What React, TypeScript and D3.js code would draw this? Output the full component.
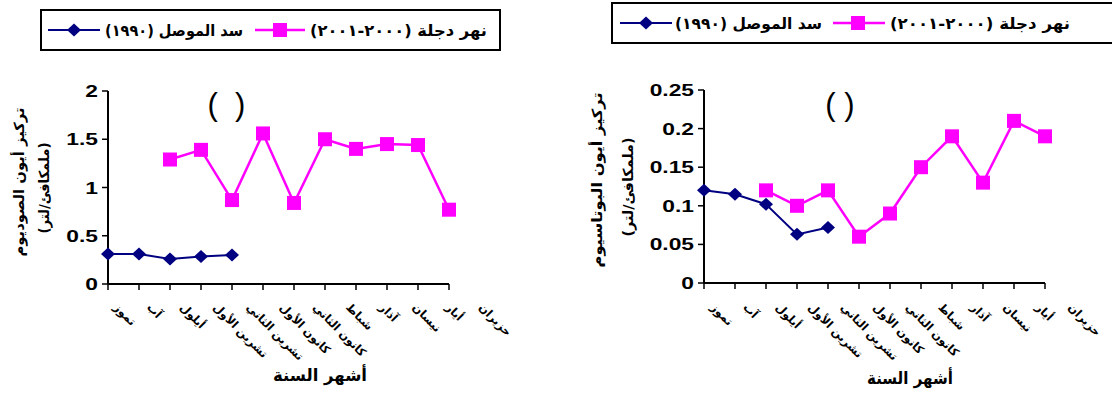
import React from 'react';
import * as d3 from 'd3';

// ---------- data ----------
const months = ['تموز', 'آب', 'أيلول', 'تشرين الأول', 'تشرين الثاني', 'كانون الأول', 'كانون الثاني', 'شباط', 'آذار', 'نيسان', 'أيار', 'حزيران'];
const sodiumTigris: (number | null)[] = [null, null, 1.29, 1.39, 0.87, 1.56, 0.84, 1.5, 1.4, 1.45, 1.44, 0.77];
const sodiumDam: (number | null)[] = [0.31, 0.31, 0.26, 0.285, 0.3, null, null, null, null, null, null, null];
const potassiumTigris: (number | null)[] = [null, null, 0.12, 0.1, 0.12, 0.06, 0.09, 0.15, 0.19, 0.13, 0.21, 0.19];
const potassiumDam: (number | null)[] = [0.12, 0.115, 0.102, 0.063, 0.072, null, null, null, null, null, null, null];
const sodiumTicks = [0, 0.5, 1, 1.5, 2];
const potassiumTicks = [0, 0.05, 0.1, 0.15, 0.2, 0.25];
const tigrisLabel = 'نهر دجلة (٢٠٠٠-٢٠٠١)';
const damLabel = 'سد الموصل (١٩٩٠)';
const xTitle = 'أشهر السنة';
const unitLabel = '(ملمكافئ/لتر)';

// ---------- style ----------
const PINK = '#FF00FF';
const NAVY = '#000080';
const NUM_FONT = '"Liberation Sans", Arial, sans-serif';
const AR_FONT = '"DejaVu Sans", sans-serif';
const SX = 1.38;

type Layout = {
  x0: number; step: number; yBottom: number; yTop: number; max: number;
  lblOffset: number; lblStep: number; lblY: number;
  box: { x: number; y: number; w: number; h: number };
  navyLine: [number, number]; diamond: number; damText: [number, number];
  pinkLine: [number, number]; square: number; tigText: [number, number];
  paren: string; parenX: number;
  yT1: { x: number; y: number; len: number }; yT2: { x: number; y: number; len: number };
  xTitle: { x: number; y: number; len: number };
};

const leftLayout: Layout = {
  x0: 108, step: 31, yBottom: 284, yTop: 91, max: 2,
  lblOffset: 12, lblStep: 33.2, lblY: 301,
  box: { x: 41, y: 10, w: 459, h: 40 },
  navyLine: [7, 59], diamond: 33, damText: [64, 202],
  pinkLine: [214, 264], square: 239, tigText: [269, 446],
  paren: '(  )', parenX: 226.5,
  yT1: { x: 24, y: 182, len: 149 }, yT2: { x: 49, y: 188, len: 91 },
  xTitle: { x: 320, y: 381, len: 94 },
};

const rightLayout: Layout = {
  x0: 704, step: 31, yBottom: 283, yTop: 90, max: 0.25,
  lblOffset: 13, lblStep: 32.5, lblY: 301,
  box: { x: 612, y: 3, w: 520, h: 40 },
  navyLine: [8, 60], diamond: 34, damText: [63, 210],
  pinkLine: [221, 273], square: 246, tigText: [278, 458],
  paren: '( )', parenX: 840,
  yT1: { x: 602, y: 180, len: 175 }, yT2: { x: 633, y: 187, len: 99 },
  xTitle: { x: 910, y: 384, len: 86 },
};

function Diamond({ cx, cy }: { cx: number; cy: number }) {
  return <path d={`M${cx},${cy - 6.5}L${cx + 7},${cy}L${cx},${cy + 6.5}L${cx - 7},${cy}Z`} fill={NAVY} />;
}
function Square({ cx, cy }: { cx: number; cy: number }) {
  return <rect x={cx - 7} y={cy - 7} width={14} height={14} fill={PINK} />;
}

function Chart({ L, tigris, dam, ticks, yTitle }: { L: Layout; tigris: (number | null)[]; dam: (number | null)[]; ticks: number[]; yTitle: string }) {
  const idx = d3.range(months.length);
  const x = d3.scaleLinear().domain([0, months.length - 1]).range([L.x0, L.x0 + (months.length - 1) * L.step]);
  const xl = d3.scaleLinear().domain([0, months.length - 1]).range([L.x0 + L.lblOffset, L.x0 + L.lblOffset + (months.length - 1) * L.lblStep]);
  const y = d3.scaleLinear().domain([0, L.max]).range([L.yBottom, L.yTop]);
  const mk = (vals: (number | null)[]) =>
    d3.line<number>().defined((i) => vals[i] != null).x((i) => x(i)).y((i) => y(vals[i] as number))(idx) || '';
  const ly = L.box.y + L.box.h / 2;
  const bx = L.box.x;
  return (
    <g>
      {/* legend */}
      <rect x={L.box.x} y={L.box.y} width={L.box.w} height={L.box.h} fill="white" stroke="black" strokeWidth={2} />
      <line x1={bx + L.navyLine[0]} x2={bx + L.navyLine[1]} y1={ly} y2={ly} stroke={NAVY} strokeWidth={2} />
      <Diamond cx={bx + L.diamond} cy={ly} />
      <text x={bx + (L.damText[0] + L.damText[1]) / 2} y={ly + 6} direction="rtl" textAnchor="middle" fontFamily={AR_FONT} fontWeight="bold" fontSize={16}
        textLength={L.damText[1] - L.damText[0]} lengthAdjust="spacingAndGlyphs">{damLabel}</text>
      <line x1={bx + L.pinkLine[0]} x2={bx + L.pinkLine[1]} y1={ly} y2={ly} stroke={PINK} strokeWidth={2.5} />
      <Square cx={bx + L.square} cy={ly} />
      <text x={bx + (L.tigText[0] + L.tigText[1]) / 2} y={ly + 6} direction="rtl" textAnchor="middle" fontFamily={AR_FONT} fontWeight="bold" fontSize={16}
        textLength={L.tigText[1] - L.tigText[0]} lengthAdjust="spacingAndGlyphs">{tigrisLabel}</text>

      {/* title parens */}
      <text x={L.parenX} y={115} textAnchor="middle" fontFamily={NUM_FONT} fontSize={31} style={{ whiteSpace: 'pre' }}>{L.paren}</text>

      {/* y axis */}
      <line x1={L.x0} x2={L.x0} y1={y(0)} y2={y(L.max)} stroke="black" strokeWidth={2} />
      {ticks.map((t) => (
        <g key={t}>
          <line x1={L.x0 - 6} x2={L.x0} y1={y(t)} y2={y(t)} stroke="black" strokeWidth={1.5} />
          <text transform={`translate(${L.x0 - 10},${y(t) + 6}) scale(${SX},1)`} textAnchor="end" fontFamily={NUM_FONT} fontWeight="bold" fontSize={16.5}>{String(t)}</text>
        </g>
      ))}

      {/* x axis */}
      <line x1={x(0)} x2={x(months.length - 1)} y1={y(0)} y2={y(0)} stroke="black" strokeWidth={2} />
      {idx.map((i) => (
        <g key={i}>
          <line x1={x(i)} x2={x(i)} y1={y(0)} y2={y(0) + 6} stroke="black" strokeWidth={1.5} />
          <text transform={`translate(${xl(i)},${L.lblY}) rotate(45)`} dy={10} textAnchor="start" fontFamily={AR_FONT} fontWeight="bold" fontSize={11.5}>{months[i]}</text>
        </g>
      ))}

      {/* axis titles */}
      <text transform={`translate(${L.yT1.x},${L.yT1.y}) rotate(-90)`} direction="rtl" textAnchor="middle" fontFamily={AR_FONT} fontWeight="bold" fontSize={14}
        textLength={L.yT1.len} lengthAdjust="spacingAndGlyphs">{yTitle}</text>
      <text transform={`translate(${L.yT2.x},${L.yT2.y}) rotate(-90)`} direction="rtl" textAnchor="middle" fontFamily={AR_FONT} fontWeight="bold" fontSize={14}
        textLength={L.yT2.len} lengthAdjust="spacingAndGlyphs">{unitLabel}</text>
      <text x={L.xTitle.x} y={L.xTitle.y} direction="rtl" textAnchor="middle" fontFamily={AR_FONT} fontWeight="bold" fontSize={17}
        textLength={L.xTitle.len} lengthAdjust="spacingAndGlyphs">{xTitle}</text>

      {/* series */}
      <path d={mk(dam)} fill="none" stroke={NAVY} strokeWidth={2} />
      {idx.filter((i) => dam[i] != null).map((i) => <Diamond key={i} cx={x(i)} cy={y(dam[i] as number)} />)}
      <path d={mk(tigris)} fill="none" stroke={PINK} strokeWidth={2.5} />
      {idx.filter((i) => tigris[i] != null).map((i) => <Square key={i} cx={x(i)} cy={y(tigris[i] as number)} />)}
    </g>
  );
}

export default function App() {
  return (
    <svg width={1112} height={394} viewBox="0 0 1112 394" style={{ position: 'absolute', left: 0, top: 0, background: 'white' }}>
      <rect width={1112} height={394} fill="white" />
      <Chart L={leftLayout} tigris={sodiumTigris} dam={sodiumDam} ticks={sodiumTicks} yTitle="تركيز أيون الصوديوم" />
      <Chart L={rightLayout} tigris={potassiumTigris} dam={potassiumDam} ticks={potassiumTicks} yTitle="تركيز أيون البوتاسيوم" />
    </svg>
  );
}
